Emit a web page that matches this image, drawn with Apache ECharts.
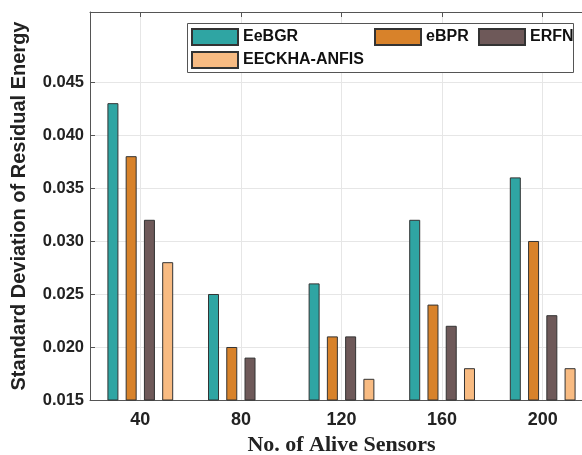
<!DOCTYPE html>
<html><head><meta charset="utf-8">
<script src="https://cdn.jsdelivr.net/npm/echarts@6/dist/echarts.min.js"></script>
<style>html,body{margin:0;padding:0;background:#fff}#c{width:582px;height:455px}</style>
</head><body><div id="c"></div>
<script>
const categories = ['40', '80', '120', '160', '200'];
const seriesNames = ['EeBGR', 'eBPR', 'ERFN', 'EECKHA-ANFIS'];
const eebgr = [0.043, 0.025, 0.026, 0.032, 0.036];
const ebpr = [0.038, 0.020, 0.021, 0.024, 0.030];
const erfn = [0.032, 0.019, 0.021, 0.022, 0.023];
const eeckha = [0.028, null, 0.017, 0.018, 0.018];
const yTicks = [0.015, 0.020, 0.025, 0.030, 0.035, 0.040, 0.045];
const colors = ['#2fa5a3', '#d8822a', '#6e5959', '#f8bb82'];

const values = [eebgr, ebpr, erfn, eeckha];
const chart = echarts.init(document.getElementById('c'));
const gridLine = '#e6e6e6';
const axisCol = '#555';
const legendCommon = {
  itemWidth: 46, itemHeight: 16, orient: 'horizontal', selectedMode: false, z: 20, padding: 0,
  textStyle: { fontFamily: 'Liberation Sans, Arial', fontWeight: 'bold', fontSize: 16, color: '#111' },
  icon: 'rect'
};
chart.setOption({
  animation: false,
  grid: { left: 90, right: -11, top: 12, bottom: 55, outerBoundsMode: 'none', containLabel: false },
  xAxis: [{
    type: 'category', data: categories, position: 'bottom',
    axisLine: { onZero: false, lineStyle: { color: axisCol, width: 1 } },
    axisTick: { alignWithLabel: true, inside: true, length: 4, lineStyle: { color: axisCol } },
    axisLabel: { fontFamily: 'Liberation Sans, Arial', fontWeight: 'bold', fontSize: 18, color: '#222', margin: 11 },
    splitLine: { show: false },
    name: 'No. of Alive Sensors', nameLocation: 'middle', nameGap: 34,
    nameTextStyle: { fontFamily: 'Liberation Serif, Times New Roman', fontWeight: 'bold', fontSize: 22, color: '#222' }
  }, {
    type: 'value', position: 'top', min: -0.5, max: categories.length - 0.5,
    axisLine: { show: true, onZero: false, lineStyle: { color: axisCol, width: 1 } },
    axisTick: { show: true, inside: true, length: 5, customValues: categories.map((_, i) => i), lineStyle: { color: axisCol } },
    axisLabel: { show: false },
    splitLine: { show: true, lineStyle: { color: gridLine, width: 1 } }
  }],
  yAxis: {
    type: 'value', min: 0.015, max: 0.0516,
    axisLine: { show: true, onZero: false, lineStyle: { color: axisCol, width: 1 } },
    axisTick: { show: true, inside: true, length: 5, customValues: yTicks, lineStyle: { color: axisCol } },
    axisLabel: { customValues: yTicks, formatter: v => v.toFixed(3), fontFamily: 'Liberation Sans, Arial', fontWeight: 'bold', fontSize: 16.5, color: '#222', margin: 6 },
    splitLine: { show: true, lineStyle: { color: gridLine, width: 1 } },
    name: 'Standard Deviation of Residual Energy', nameLocation: 'middle', nameGap: 61,
    nameTextStyle: { fontFamily: 'Liberation Sans, Arial', fontWeight: 'bold', fontSize: 20, color: '#222' }
  },
  legend: [
    Object.assign({ data: [seriesNames[0]], left: 191, top: 28 }, legendCommon),
    Object.assign({ data: [seriesNames[1]], left: 374, top: 28 }, legendCommon),
    Object.assign({ data: [seriesNames[2]], left: 478, top: 28 }, legendCommon),
    Object.assign({ data: [seriesNames[3]], left: 191, top: 51 }, legendCommon)
  ],
  graphic: [{
    type: 'rect', left: 187, top: 23, z: 5,
    shape: { width: 386, height: 49 },
    style: { fill: '#fff', stroke: '#555', lineWidth: 1 }
  }],
  series: seriesNames.map((n, i) => ({
    name: n, type: 'bar', data: values[i], xAxisIndex: 0,
    barWidth: 11, barGap: '66%',
    itemStyle: { color: colors[i], borderColor: '#333', borderWidth: 1 }
  }))
});
</script></body></html>
